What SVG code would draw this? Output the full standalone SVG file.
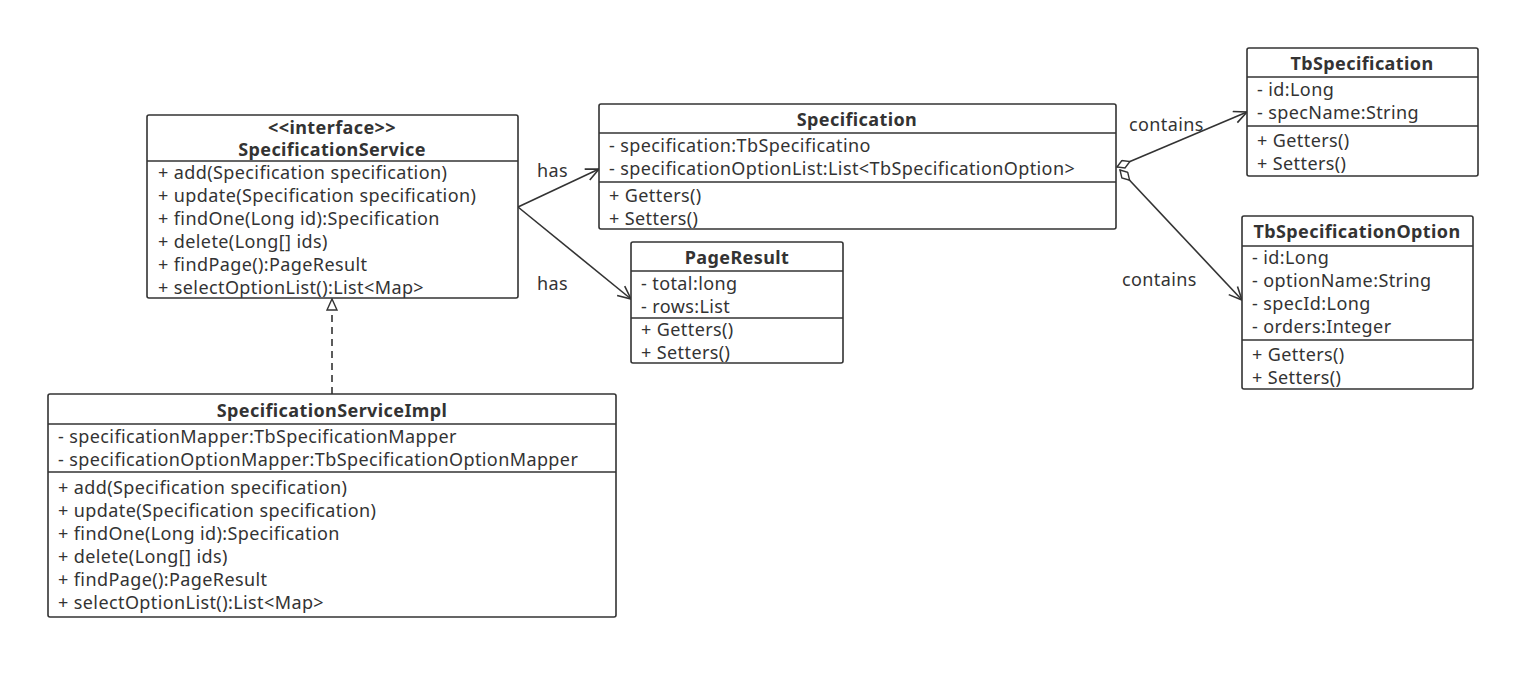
<svg xmlns="http://www.w3.org/2000/svg" width="1540" height="680" viewBox="0 0 1540 680">
<style>
.box{fill:#fff;stroke:#333;stroke-width:1.6}
.sep{stroke:#333;stroke-width:1.6}
text{font-family:"Noto Sans","Liberation Sans",sans-serif;font-size:18px;letter-spacing:0.4px;fill:#333}
.t{font-weight:bold;text-anchor:middle}
.edge{fill:none;stroke:#333;stroke-width:1.6}
</style>
<defs>
<marker id="open" markerWidth="16" markerHeight="14" refX="14" refY="7" orient="auto" markerUnits="userSpaceOnUse">
<path d="M1,1 L14,7 L1,13" fill="none" stroke="#333" stroke-width="1.6"/>
</marker>
<marker id="diamond" markerWidth="18" markerHeight="10" refX="1" refY="5" orient="auto" markerUnits="userSpaceOnUse">
<path d="M1,5 L8,1 L15,5 L8,9 Z" fill="#fff" stroke="#333" stroke-width="1.4"/>
</marker>
<marker id="tri" markerWidth="14" markerHeight="14" refX="12" refY="6" orient="auto" markerUnits="userSpaceOnUse">
<path d="M1,1 L12,6 L1,11 Z" fill="#fff" stroke="#333" stroke-width="1.4"/>
</marker>
</defs>
<g id="connectors">
<path class="edge" d="M518,207 L599,169" marker-end="url(#open)"/>
<path class="edge" d="M518,207 L631,299" marker-end="url(#open)"/>
<path class="edge" d="M332,394 L332,299" stroke-dasharray="7,5" marker-end="url(#tri)"/>
<path class="edge" d="M1117,167 L1247,112" marker-start="url(#diamond)" marker-end="url(#open)"/>
<path class="edge" d="M1120,170 L1242,300" marker-start="url(#diamond)" marker-end="url(#open)"/>
<text x="537" y="177">has</text>
<text x="537" y="290">has</text>
<text x="1129" y="131">contains</text>
<text x="1122" y="286">contains</text>
</g>
<g id="SpecificationService">
<rect class="box" x="147" y="115" width="371" height="183" rx="2"/>
<line class="sep" x1="147" y1="161" x2="518" y2="161"/>
<text class="t" x="332" y="134">&lt;&lt;interface&gt;&gt;</text>
<text class="t" x="332" y="156">SpecificationService</text>
<text x="158" y="179">+ add(Specification specification)</text>
<text x="158" y="202">+ update(Specification specification)</text>
<text x="158" y="225">+ findOne(Long id):Specification</text>
<text x="158" y="248">+ delete(Long[] ids)</text>
<text x="158" y="271">+ findPage():PageResult</text>
<text x="158" y="294">+ selectOptionList():List&lt;Map&gt;</text>
</g>
<g id="Specification">
<rect class="box" x="599" y="104" width="517" height="125" rx="2"/>
<line class="sep" x1="599" y1="133" x2="1116" y2="133"/>
<line class="sep" x1="599" y1="182" x2="1116" y2="182"/>
<text class="t" x="857" y="126">Specification</text>
<text x="609" y="152">- specification:TbSpecificatino</text>
<text x="609" y="175">- specificationOptionList:List&lt;TbSpecificationOption&gt;</text>
<text x="609" y="202">+ Getters()</text>
<text x="609" y="225">+ Setters()</text>
</g>
<g id="PageResult">
<rect class="box" x="631" y="242" width="212" height="121" rx="2"/>
<line class="sep" x1="631" y1="271" x2="843" y2="271"/>
<line class="sep" x1="631" y1="318" x2="843" y2="318"/>
<text class="t" x="737" y="264">PageResult</text>
<text x="641" y="290">- total:long</text>
<text x="641" y="313">- rows:List</text>
<text x="641" y="336">+ Getters()</text>
<text x="641" y="359">+ Setters()</text>
</g>
<g id="TbSpecification">
<rect class="box" x="1247" y="48" width="231" height="128" rx="2"/>
<line class="sep" x1="1247" y1="77" x2="1478" y2="77"/>
<line class="sep" x1="1247" y1="126" x2="1478" y2="126"/>
<text class="t" x="1362" y="70">TbSpecification</text>
<text x="1257" y="96">- id:Long</text>
<text x="1257" y="119">- specName:String</text>
<text x="1257" y="147">+ Getters()</text>
<text x="1257" y="170">+ Setters()</text>
</g>
<g id="TbSpecificationOption">
<rect class="box" x="1242" y="216" width="231" height="173" rx="2"/>
<line class="sep" x1="1242" y1="246" x2="1473" y2="246"/>
<line class="sep" x1="1242" y1="340" x2="1473" y2="340"/>
<text class="t" x="1357" y="238">TbSpecificationOption</text>
<text x="1252" y="264">- id:Long</text>
<text x="1252" y="287">- optionName:String</text>
<text x="1252" y="310">- specId:Long</text>
<text x="1252" y="333">- orders:Integer</text>
<text x="1252" y="361">+ Getters()</text>
<text x="1252" y="384">+ Setters()</text>
</g>
<g id="SpecificationServiceImpl">
<rect class="box" x="48" y="394" width="568" height="223" rx="2"/>
<line class="sep" x1="48" y1="424" x2="616" y2="424"/>
<line class="sep" x1="48" y1="472" x2="616" y2="472"/>
<text class="t" x="332" y="417">SpecificationServiceImpl</text>
<text x="58" y="443">- specificationMapper:TbSpecificationMapper</text>
<text x="58" y="466">- specificationOptionMapper:TbSpecificationOptionMapper</text>
<text x="58" y="494">+ add(Specification specification)</text>
<text x="58" y="517">+ update(Specification specification)</text>
<text x="58" y="540">+ findOne(Long id):Specification</text>
<text x="58" y="563">+ delete(Long[] ids)</text>
<text x="58" y="586">+ findPage():PageResult</text>
<text x="58" y="609">+ selectOptionList():List&lt;Map&gt;</text>
</g>
</svg>
